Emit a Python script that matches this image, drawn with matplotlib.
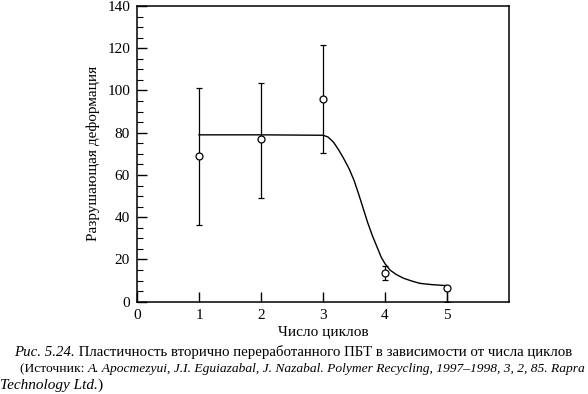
import matplotlib
matplotlib.use("Agg")
import matplotlib.pyplot as plt
from matplotlib.ticker import MultipleLocator

# Data
cycles = [1, 2, 3, 4, 5]
strain = [69, 77, 96, 13.5, 6.5]
err_low = [36.5, 49, 70.5, 10.5, 0]
err_high = [101, 103.5, 121.5, 17, 7.5]

curve_x = [1.0, 2.0, 3.0, 3.08, 3.17, 3.25, 3.33, 3.42, 3.5, 3.58, 3.65, 3.72, 3.8,
           3.87, 3.94, 4.0, 4.08, 4.18, 4.3, 4.43, 4.56, 4.75, 5.0]
curve_y = [79, 79, 78.8, 78, 75.5, 72, 68, 63, 57.5, 50.5, 44, 37.5, 31,
           26, 21, 18, 15, 12.9, 11.1, 9.8, 8.7, 8.1, 7.6]

xticks = [0, 1, 2, 3, 4, 5]
yticks = [0, 20, 40, 60, 80, 100, 120, 140]

xlabel = "Число циклов"
ylabel = "Разрушающая деформация"

serif = ["Liberation Serif", "DejaVu Serif"]
plt.rcParams["font.family"] = serif

fig = plt.figure(figsize=(5.88, 3.94), dpi=100)
ax = fig.add_axes([137 / 588, 1 - 301.7 / 394, (509 - 137) / 588, (301.7 - 6) / 394])

yerr = [[s - lo for s, lo in zip(strain, err_low)], [hi - s for s, hi in zip(strain, err_high)]]
ax.plot(curve_x, curve_y, color="black", lw=1.0, zorder=2)
ax.errorbar(cycles, strain, yerr=yerr, fmt="o", mfc="white", mec="black", mew=0.9,
            ms=5, ecolor="black", elinewidth=0.9, capsize=2.5, capthick=0.9, zorder=3)

ax.set_xlim(0, 6)
ax.set_ylim(0, 140)
ax.set_xticks(xticks)
ax.set_yticks(yticks)
ax.yaxis.set_minor_locator(MultipleLocator(5))
ax.tick_params(axis="both", which="major", direction="in", length=7, width=1.0,
               labelsize=11, pad=5, top=False, right=False)
ax.tick_params(axis="y", which="minor", direction="in", length=4, width=0.8, right=False)
ax.tick_params(axis="x", which="major", pad=5)
for s in ax.spines.values():
    s.set_linewidth(1.1)

ax.set_xlabel(xlabel, fontsize=11, labelpad=3)
ax.set_ylabel(ylabel, fontsize=11, labelpad=5)

# Caption, drawn in pieces (italic / regular)
fig.canvas.draw()
renderer = fig.canvas.get_renderer()

def draw_line(pieces, x0, ycenter, target_w, base=10, fam=serif):
    def measure(size):
        w = 0
        for txt, style in pieces:
            t = fig.text(0, 0, txt, fontsize=size, style=style, family=fam)
            w += t.get_window_extent(renderer).width
            t.remove()
        return w
    w = measure(base)
    size = base * target_w / w
    x = x0
    for txt, style in pieces:
        t = fig.text(x / 588, 1 - ycenter / 394, txt, fontsize=size, style=style,
                     family=fam, va="center", ha="left")
        x += t.get_window_extent(renderer).width

draw_line([("Рис. 5.24.", "italic"),
           (" Пластичность вторично переработанного ПБТ в зависимости от числа циклов", "normal")],
          14, 352, 561)
draw_line([("(Источник: ", "normal"),
           ("A. Apocmezyui, J.I. Eguiazabal, J. Nazabal. Polymer Recycling, 1997–1998, 3, 2, 85. Rapra", "italic")],
          20, 369, 566)
draw_line([("Technology Ltd.", "italic"), (")", "normal")], 0, 385, 103)

fig.savefig("out.png", dpi=100)
